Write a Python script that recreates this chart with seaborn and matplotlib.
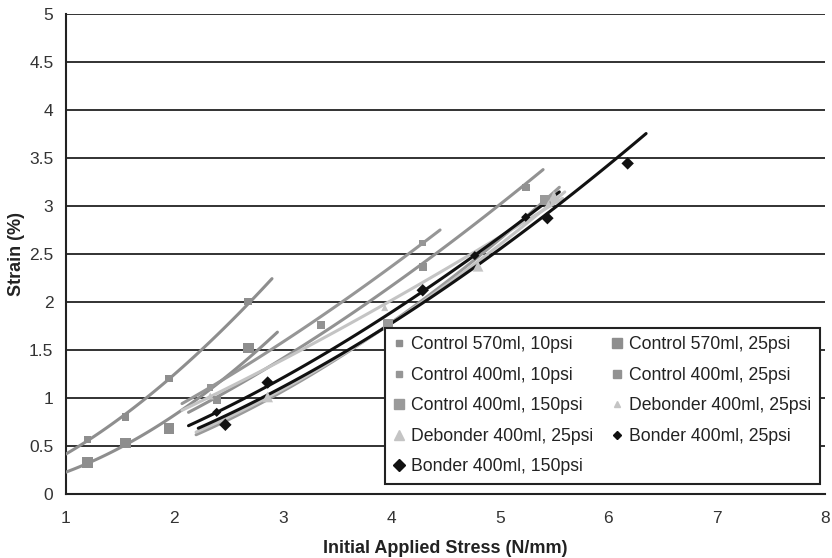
import matplotlib
matplotlib.use("Agg")
import matplotlib.pyplot as plt
import seaborn as sns
import numpy as np
import pandas as pd

# measured points per series (stress N/mm, strain %)
c570_10_x = [1.2, 1.55, 1.95, 2.68]
c570_10_y = [0.57, 0.80, 1.20, 2.00]
c570_25_x = [1.2, 1.55, 1.95, 2.68]
c570_25_y = [0.33, 0.53, 0.68, 1.52]
c400_10_x = [2.33, 4.29]
c400_10_y = [1.11, 2.61]
c400_25_x = [2.39, 3.35, 4.29, 5.24]
c400_25_y = [0.98, 1.76, 2.36, 3.19]
c400_150_x = [3.97, 5.42]
c400_150_y = [1.76, 3.06]
deb_a_x = [2.33, 3.94, 5.45]
deb_a_y = [1.02, 1.94, 3.02]
deb_b_x = [2.86, 4.80, 5.50]
deb_b_y = [1.01, 2.37, 3.10]
bon_25_x = [2.39, 4.77, 5.24]
bon_25_y = [0.85, 2.48, 2.88]
bon_150_x = [2.47, 2.86, 4.29, 5.44, 6.18]
bon_150_y = [0.72, 1.16, 2.12, 2.87, 3.44]

# power trendline extents (Excel forecast)
trend_ranges = [(1.0, 2.9), (1.0, 2.95), (2.07, 4.45), (2.13, 5.4), (2.2, 5.55),
                (2.07, 5.58), (2.2, 5.6), (2.13, 5.55), (2.22, 6.35)]

labels = ["Control 570ml, 10psi", "Control 570ml, 25psi", "Control 400ml, 10psi",
          "Control 400ml, 25psi", "Control 400ml, 150psi", "Debonder 400ml, 25psi",
          "Debonder 400ml, 25psi", "Bonder 400ml, 25psi", "Bonder 400ml, 150psi"]
xs = [c570_10_x, c570_25_x, c400_10_x, c400_25_x, c400_150_x, deb_a_x, deb_b_x, bon_25_x, bon_150_x]
ys = [c570_10_y, c570_25_y, c400_10_y, c400_25_y, c400_150_y, deb_a_y, deb_b_y, bon_25_y, bon_150_y]

colors = ["#8e8e8e", "#8e8e8e", "#969696", "#929292", "#9a9a9a", "#c4c4c4", "#c4c4c4", "#111111", "#111111"]
markers = ["s", "s", "s", "s", "s", "^", "^", "D", "D"]
sizes = [28, 60, 22, 32, 60, 26, 60, 22, 40]

sns.set_style("white")
plt.rcParams["font.family"] = ["Liberation Sans", "DejaVu Sans"]

fig, ax = plt.subplots(figsize=(8.32, 5.58), dpi=100)
fig.subplots_adjust(left=0.0793, right=0.9916, bottom=0.1147, top=0.9758)

handles = []
for i in range(len(labels)):
    b, ln_a = np.polyfit(np.log(xs[i]), np.log(ys[i]), 1)
    xt = np.linspace(trend_ranges[i][0], trend_ranges[i][1], 80)
    trend = pd.DataFrame({"x": xt, "y": np.exp(ln_a) * xt ** b})
    sns.lineplot(data=trend, x="x", y="y", ax=ax, color=colors[i], lw=2.2, zorder=3)
    pts = pd.DataFrame({"x": xs[i], "y": ys[i]})
    sns.scatterplot(data=pts, x="x", y="y", ax=ax, color=colors[i], marker=markers[i],
                    s=sizes[i], edgecolor="none", zorder=4)
    handles.append(plt.Line2D([], [], ls="none", marker=markers[i], color=colors[i],
                              markersize=np.sqrt(sizes[i]) * 0.95, label=labels[i]))

ax.set_xlim(1, 8)
ax.set_ylim(0, 5)
ax.set_xticks(range(1, 9))
ax.set_yticks(np.arange(0, 5.01, 0.5))
ax.set_yticklabels(["0", "0.5", "1", "1.5", "2", "2.5", "3", "3.5", "4", "4.5", "5"])
ax.yaxis.grid(True, color="#222222", lw=1.3)
ax.set_axisbelow(True)
for s in ["top", "right"]:
    ax.spines[s].set_visible(False)
for s in ["left", "bottom"]:
    ax.spines[s].set_color("#222222")
    ax.spines[s].set_linewidth(1.5)
ax.tick_params(axis="both", direction="out", length=5, width=1.3, color="#222222",
               labelsize=12.5, labelcolor="#333333", pad=4)
ax.tick_params(axis="x", pad=7)
ax.set_xlabel("Initial Applied Stress (N/mm)", fontsize=13, fontweight="bold", color="#222222", labelpad=10)
ax.set_ylabel("Strain (%)", fontsize=13, fontweight="bold", color="#222222", labelpad=3)

order = [0, 2, 4, 6, 8, 1, 3, 5, 7]
leg = ax.legend(handles=[handles[k] for k in order], ncol=2, loc="lower right",
                bbox_to_anchor=(0.9934, 0.021), borderaxespad=0, fontsize=12.7, frameon=True,
                fancybox=False, framealpha=1, edgecolor="#222222", handlelength=0.6,
                handletextpad=0.4, columnspacing=1.0, labelspacing=0.76, borderpad=0.5,
                labelcolor="#222222")
leg.get_frame().set_linewidth(1.5)

fig.savefig("out.png", dpi=100)
